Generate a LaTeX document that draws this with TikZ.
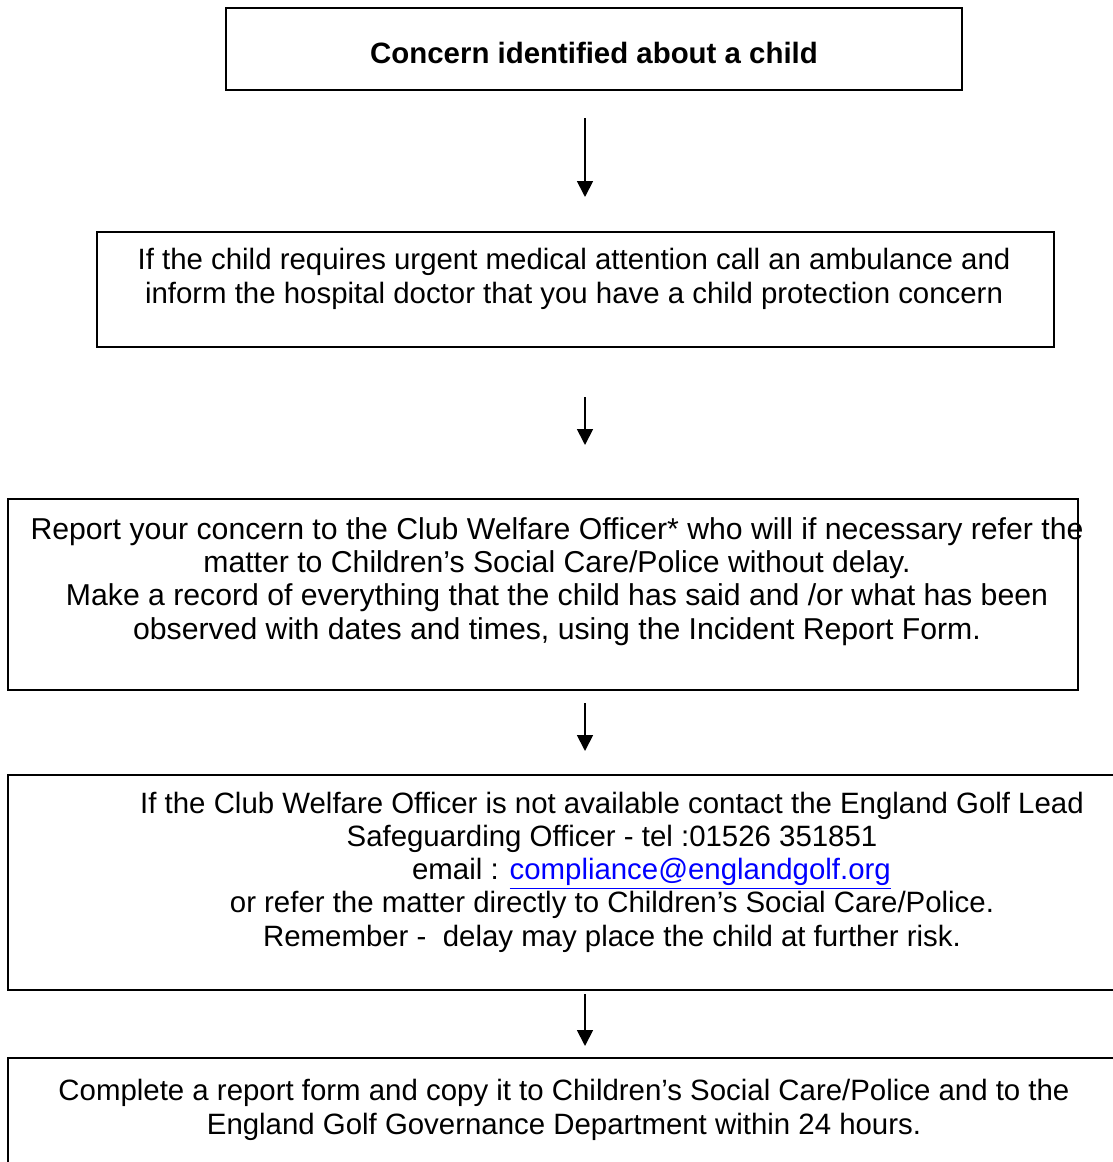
\documentclass[tikz,border=0pt]{standalone}
\usepackage{fontspec}
\setmainfont{Liberation Sans}
\usetikzlibrary{arrows.meta}
\definecolor{linkblue}{RGB}{0,0,255}
\newcommand{\emaillink}[1]{\textcolor{linkblue}{\underline{#1}}}

\begin{document}
\begin{tikzpicture}[x=0.5pt,y=-0.5pt,
  stepbox/.style={draw, line width=1pt, inner sep=0pt},
  steptext/.style={align=center, inner sep=0pt, anchor=base,
    font=\fontsize{14.7}{16.6}\selectfont},
  flow/.style={-{Triangle[length=8pt,width=8pt]}, line width=0.9pt}]
  \useasboundingbox (0,0) rectangle (1113,1162);
  \coordinate (arrowx) at (585,0);

  % Concern identified
  \node[stepbox, minimum width=368pt, minimum height=41pt] (concern) at (594,49) {};
  \node[steptext] (concern-txt) at (594,63) {\textbf{Concern identified about a child}};

  % Urgent medical attention
  \node[stepbox, minimum width=478.5pt, minimum height=57.5pt] (urgent) at (575.5,289.5) {};
  \node[steptext] (urgent-txt) at (574,303) {If the child requires urgent medical attention call an ambulance and\\
    inform the hospital doctor that you have a child protection concern};

  % Report to Club Welfare Officer
  \node[stepbox, minimum width=535pt, minimum height=95.5pt] (report) at (543,594.5) {};
  \node[steptext, font=\fontsize{15.1}{16.65}\selectfont] (report-txt) at (557,639) {Report your concern to the Club Welfare Officer* who will if necessary refer the\\
    matter to Children’s Social Care/Police without delay.\\
    Make a record of everything that the child has said and /or what has been\\
    observed with dates and times, using the Incident Report Form.};

  % Lead Safeguarding Officer
  \node[stepbox, minimum width=604pt, minimum height=107.5pt] (lead) at (612,882.5) {};
  \node[steptext] (lead-txt) at (612,946) {If the Club Welfare Officer is not available contact the England Golf Lead\\
    Safeguarding Officer - tel :01526 351851\\
    \hspace*{39.5pt}email : \emaillink{compliance@englandgolf.org}\\
    or refer the matter directly to Children’s Social Care/Police.\\
    Remember -\ \ delay may place the child at further risk.};

  % Report form
  \node[stepbox, minimum width=556pt, minimum height=71pt] (form) at (564,1129) {};
  \node[steptext] (form-txt) at (564,1134) {Complete a report form and copy it to Children’s Social Care/Police and to the\\
    England Golf Governance Department within 24 hours.};

  % Arrows
  \draw[flow, shorten <=13.5pt, shorten >=17pt] (concern.south -| arrowx) -- (urgent.north -| arrowx);
  \draw[flow, shorten <=24.5pt, shorten >=26.5pt] (urgent.south -| arrowx) -- (report.north -| arrowx);
  \draw[flow, shorten <=6pt, shorten >=11.5pt] (report.south -| arrowx) -- (lead.north -| arrowx);
  \draw[flow, shorten <=1.5pt, shorten >=5.5pt] (lead.south -| arrowx) -- (form.north -| arrowx);
\end{tikzpicture}
\end{document}
